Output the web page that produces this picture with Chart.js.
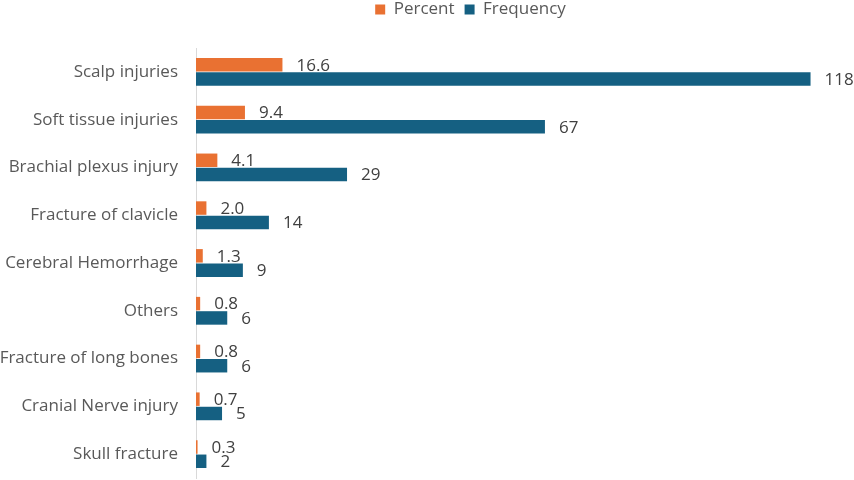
<!DOCTYPE html>
<html><head><meta charset="utf-8">
<script src="https://cdn.jsdelivr.net/npm/chart.js@4.4.1/dist/chart.umd.min.js"></script>
<style>html,body{margin:0;padding:0;background:#fff}</style>
</head><body><canvas id="c" width="854" height="480" style="width:854px;height:480px;display:block"></canvas>
<script>
const categories = ["Scalp injuries","Soft tissue injuries","Brachial plexus injury","Fracture of clavicle","Cerebral Hemorrhage","Others","Fracture of long bones","Cranial Nerve injury","Skull fracture"];
const percentValues = [16.6, 9.4, 4.1, 2.0, 1.3, 0.8, 0.8, 0.7, 0.3];
const frequencyValues = [118, 67, 29, 14, 9, 6, 6, 5, 2];
const percentLabels = ["16.6","9.4","4.1","2.0","1.3","0.8","0.8","0.7","0.3"];
const frequencyLabels = ["118","67","29","14","9","6","6","5","2"];

const FONT = "'Open Sans', 'Noto Sans', sans-serif";
const labelPlugin = {
  id: 'barLabels',
  afterDatasetsDraw(chart) {
    const ctx = chart.ctx;
    ctx.save();
    ctx.font = "17px " + FONT;
    ctx.fillStyle = "#404040";
    ctx.textBaseline = "middle";
    ctx.textAlign = "left";
    chart.data.datasets.forEach((ds, i) => {
      const meta = chart.getDatasetMeta(i);
      meta.data.forEach((bar, j) => {
        ctx.fillText(ds.labelsText[j], bar.x + 14, bar.y + 1);
      });
    });
    ctx.restore();
  }
};
const legendHeight = {
  id: 'legendHeight',
  beforeInit(chart) {
    const origFit = chart.legend.fit;
    chart.legend.fit = function () {
      origFit.call(this);
      this.height = 57;
    };
  },
  afterLayout(chart) {
    chart.legend.left += 47;
    chart.legend.right += 47;
  }
};

new Chart(document.getElementById('c'), {
  type: 'bar',
  data: {
    labels: categories,
    datasets: [
      { label: 'Percent', data: percentValues, labelsText: percentLabels, backgroundColor: '#E97132', categoryPercentage: 0.6, barPercentage: 0.94 },
      { label: 'Frequency', data: frequencyValues, labelsText: frequencyLabels, backgroundColor: '#156082', categoryPercentage: 0.6, barPercentage: 0.94 }
    ]
  },
  options: {
    indexAxis: 'y',
    responsive: false,
    maintainAspectRatio: false,
    animation: false,
    devicePixelRatio: 1,
    layout: { padding: { left: 0, right: 7, top: -9, bottom: 2 } },
    plugins: {
      legend: {
        position: 'top',
        labels: { font: { size: 17, family: FONT }, color: '#595959', boxWidth: 10, boxHeight: 10, padding: 10 }
      },
      tooltip: { enabled: false }
    },
    scales: {
      x: { display: false, min: 0, max: 125 },
      y: {
        grid: { display: true, drawOnChartArea: false, drawTicks: true, tickLength: 18, tickColor: 'rgba(0,0,0,0)' },
        border: { display: true, color: '#d9d9d9', width: 1 },
        ticks: { font: { size: 17, family: FONT, lineHeight: 0.1 }, color: '#595959', padding: 0 },
        afterFit(scale) { scale.width = 196; }
      }
    }
  },
  plugins: [labelPlugin, legendHeight]
});
</script>
</body></html>
